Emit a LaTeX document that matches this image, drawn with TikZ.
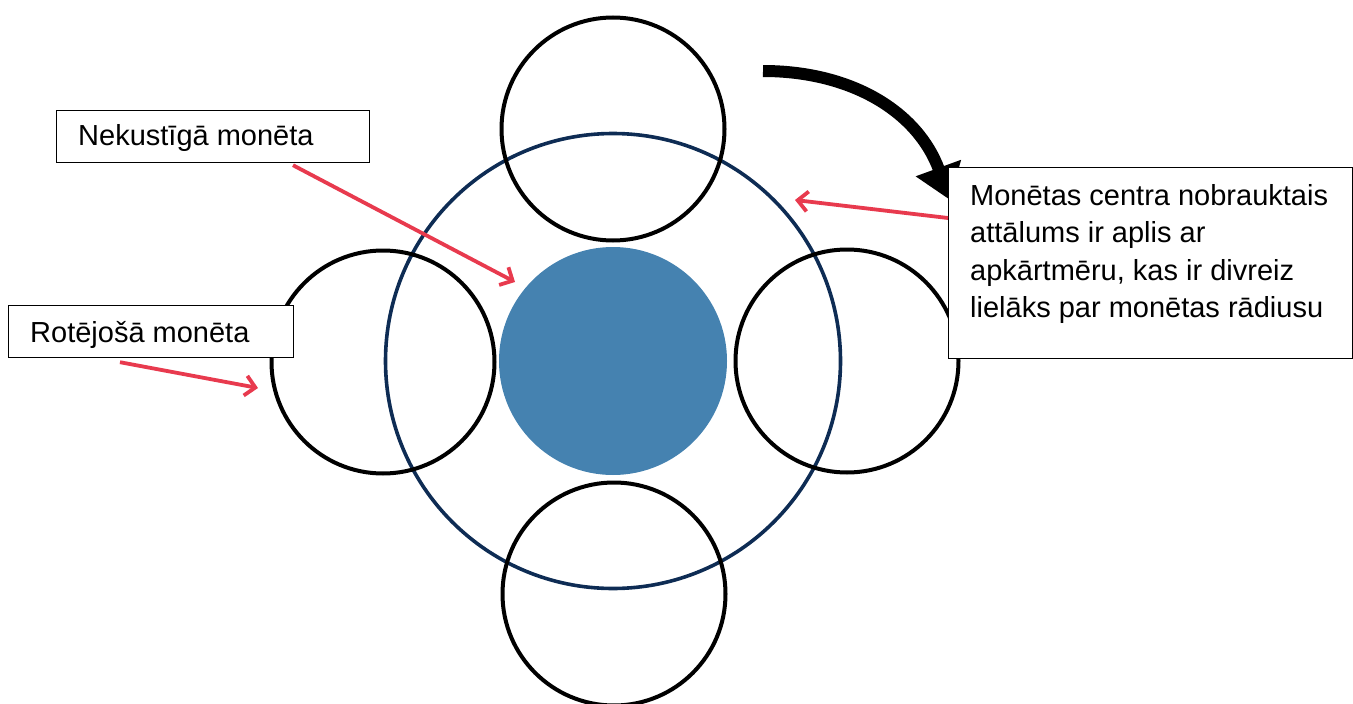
\documentclass[tikz,border=0pt]{standalone}
\usepackage{fontspec}
\setmainfont{Liberation Sans}
\usetikzlibrary{arrows.meta,calc}

\definecolor{coinblue}{RGB}{69,130,176}
\definecolor{pathnavy}{RGB}{14,44,84}
\definecolor{pointred}{RGB}{232,58,78}

\begin{document}
\begin{tikzpicture}[x=1pt,y=-1pt,
  coin/.style={circle, draw=black, line width=4pt, minimum size=223pt, inner sep=0pt},
  orbit/.style={circle, draw=pathnavy, line width=3.6pt, minimum size=455pt, inner sep=0pt},
  fixedcoin/.style={circle, fill=coinblue, minimum size=228pt, inner sep=0pt},
  labelbox/.style={rectangle, draw=black, line width=1.2pt, fill=white, inner sep=0pt, anchor=north west},
  labeltext/.style={anchor=base west, inner sep=0pt, font=\fontsize{29}{37.5}\selectfont},
  pointer/.style={draw=pointred, line width=3.8pt, -{Straight Barb[length=10pt,width=20pt,line width=3.8pt]}},
  turn/.style={draw=black, line width=12pt, -{Triangle[length=34pt,width=46pt]}}
]
\useasboundingbox (0,0) rectangle (1353,704);

% path of the centre of the rolling coin
\node[orbit] (orbit) at (613,361) {};

% rolling coin in four positions
\node[coin] (ctop) at (613,129) {};
\node[coin] (cbottom) at (614,594) {};
\node[coin] (cleft) at (383,362) {};
\node[coin] (cright) at (847,361) {};

% fixed coin
\node[fixedcoin] (fixed) at (613,361) {};

% direction of rolling
\coordinate (sweepstart) at (763,71);
\coordinate (sweepend) at (950,200);
\draw[turn] (sweepstart) .. controls (852,71) and (918,112) .. (sweepend);

% label boxes
\node[labelbox, minimum width=313pt, minimum height=52pt] (nbox) at (56,110) {};
\node[labeltext] (ntext) at (78,145) {Nekustīgā monēta};

\node[labelbox, minimum width=285pt, minimum height=52pt] (lbox) at (8,305) {};
\node[labeltext] (ltext) at (30,342) {Rotējošā monēta};

\node[labelbox, minimum width=404pt, minimum height=191pt] (rbox) at (948,167) {};
\node[labeltext] (rtext) at (970,205) {\parbox[t]{380pt}{\fontsize{29}{37.5}\selectfont\raggedright
  Monētas centra nobrauktais\\
  attālums ir aplis ar\\
  apkārtmēru, kas ir divreiz\\
  lielāks par monētas rādiusu}};

% pointers
\coordinate (ntip) at (515,282);
\coordinate (ltip) at (258,388);
\coordinate (rtip) at (795,200);
\draw[pointer] ([xshift=237pt,yshift=-2pt]nbox.south west) -- (ntip);
\draw[pointer] ([xshift=112pt,yshift=-4pt]lbox.south west) -- (ltip);
\draw[pointer] ([yshift=-51pt]rbox.north west) -- (rtip);
\end{tikzpicture}
\end{document}
